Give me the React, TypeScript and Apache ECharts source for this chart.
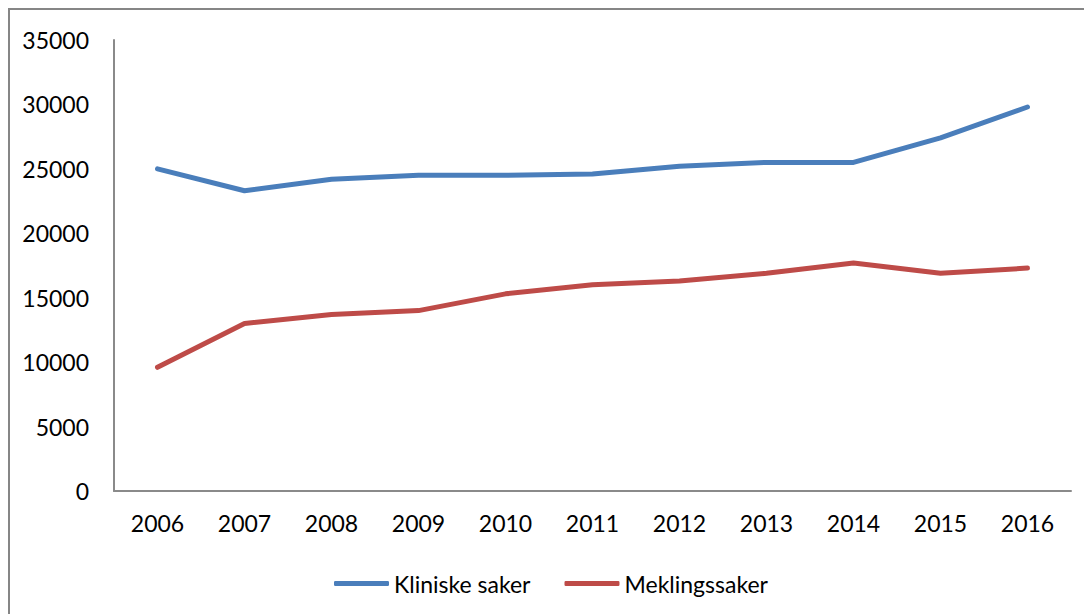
import React, { useEffect, useRef } from "react";
import * as echarts from "echarts";

const years = ["2006", "2007", "2008", "2009", "2010", "2011", "2012", "2013", "2014", "2015", "2016"];
const kliniske = [25000, 23300, 24200, 24500, 24500, 24600, 25200, 25500, 25500, 27400, 29800];
const mekling = [9600, 13000, 13700, 14000, 15300, 16000, 16300, 16900, 17700, 16900, 17300];
const seriesNames = ["Kliniske saker", "Meklingssaker"];
const colors = ["#4A7EBB", "#BE4B48"];

export default function App() {
  const ref = useRef<HTMLDivElement>(null);
  useEffect(() => {
    if (!ref.current) return;
    const chart = echarts.init(ref.current, undefined, { renderer: "svg" });
    const font = "Lato, 'Open Sans', sans-serif";
    chart.setOption({
      animation: false,
      backgroundColor: "#ffffff",
      grid: { left: 104, top: 30, right: 21, bottom: 123, containLabel: false },
      legend: {
        data: seriesNames,
        left: 319,
        top: 557,
        icon: "roundRect",
        itemWidth: 55,
        itemHeight: 5,
        itemGap: 34,
        textStyle: { fontFamily: font, fontSize: 23, color: "#000", padding: [0, 0, 0, 0] },
      },
      xAxis: {
        type: "category",
        data: years,
        boundaryGap: true,
        axisLine: { lineStyle: { color: "#8a8a8a", width: 2 } },
        axisTick: { show: false },
        axisLabel: { fontFamily: font, fontSize: 23, color: "#000", margin: 20 },
        splitLine: { show: false },
      },
      yAxis: {
        type: "value",
        min: 0,
        max: 35000,
        interval: 5000,
        axisLine: { show: true, lineStyle: { color: "#8a8a8a", width: 2 } },
        axisTick: { show: false },
        axisLabel: {
          fontFamily: font,
          fontSize: 23,
          color: "#000",
          margin: 25,
          formatter: (v: number) => String(v),
        },
        splitLine: { show: false },
      },
      series: [
        {
          name: seriesNames[0],
          type: "line",
          data: kliniske,
          showSymbol: false,
          symbol: "none",
          color: colors[0],
          lineStyle: { width: 5, color: colors[0], cap: "round", join: "round" },
        },
        {
          name: seriesNames[1],
          type: "line",
          data: mekling,
          showSymbol: false,
          symbol: "none",
          color: colors[1],
          lineStyle: { width: 5, color: colors[1], cap: "round", join: "round" },
        },
      ],
    });
    return () => chart.dispose();
  }, []);
  return (
    <div
      style={{
        width: 1084,
        height: 606,
        boxSizing: "border-box",
        borderTop: "2px solid #868686",
        borderLeft: "2px solid #868686",
        overflow: "hidden",
      }}
    >
      <div ref={ref} style={{ width: 1082, height: 604 }} />
    </div>
  );
}
